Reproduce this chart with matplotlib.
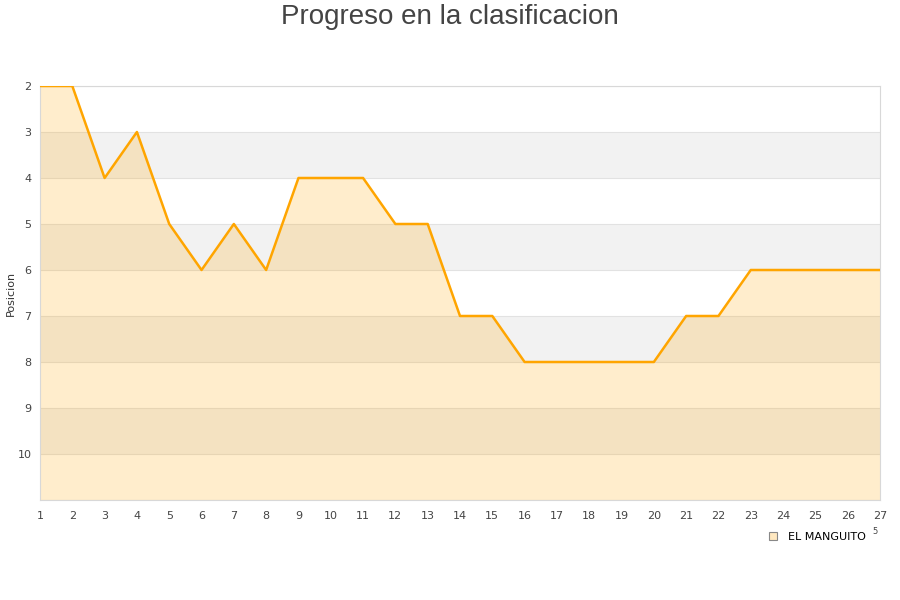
import matplotlib
matplotlib.use("Agg")
import matplotlib.pyplot as plt
from matplotlib.lines import Line2D

jornadas = list(range(1, 28))
posiciones = [2, 2, 4, 3, 5, 6, 5, 6, 4, 4, 4, 5, 5, 7, 7, 8, 8, 8, 8, 8, 7, 7, 6, 6, 6, 6, 6]
y_ticks = [2, 3, 4, 5, 6, 7, 8, 9, 10]
equipo = "EL MANGUITO"
titulo = "Progreso en la clasificacion"

fig = plt.figure(figsize=(9, 6), dpi=100)
ax = fig.add_axes([40/900, 100/600, 840/900, 414/600])

ymin, ymax = 2, 11
# alternating bands
for k in range(ymin, ymax):
    if (k - ymin) % 2 == 1:
        ax.axhspan(k, k + 1, color="#f2f2f2", zorder=0, lw=0)
for k in range(ymin, ymax + 1):
    ax.axhline(k, color="#e2e2e2", lw=0.8, zorder=1)

ax.fill_between(jornadas, posiciones, ymax, color="#FFA500", alpha=0.2, lw=0, zorder=2)
ax.plot(jornadas, posiciones, color="#FFA500", lw=1.8, zorder=3)

ax.set_xlim(1, 27)
ax.set_ylim(ymax, ymin)
ax.set_xticks(jornadas)
ax.set_yticks(y_ticks)
ax.tick_params(axis="both", length=0, labelsize=8, colors="#444444", pad=8)
ax.tick_params(axis="y", pad=6)
for s in ["left", "bottom", "right", "top"]:
    ax.spines[s].set_color("#d8d8d8")
    ax.spines[s].set_linewidth(0.8)

fig.text(11/900, 1 - 293/600, "Posicion", fontsize=8, color="#333333",
         rotation=90, ha="center", va="center")

fig.text(0.5, 1 - 17/600, titulo, ha="center", va="center", fontsize=20,
         color="#444444", family=["Liberation Sans", "DejaVu Sans"])

handle = Line2D([], [], marker="s", linestyle="none", markersize=6,
                markerfacecolor="#FFE8C0", markeredgecolor="#888888", markeredgewidth=0.8)
fig.legend([handle], [equipo], loc="center left", bbox_to_anchor=(757/900, 1 - 537/600),
           frameon=False, fontsize=8, handletextpad=0.4, borderaxespad=0)
fig.text(875/900, 1 - 532/600, "5", fontsize=6, color="#444444", ha="center", va="center")

fig.savefig("out.png", dpi=100)
